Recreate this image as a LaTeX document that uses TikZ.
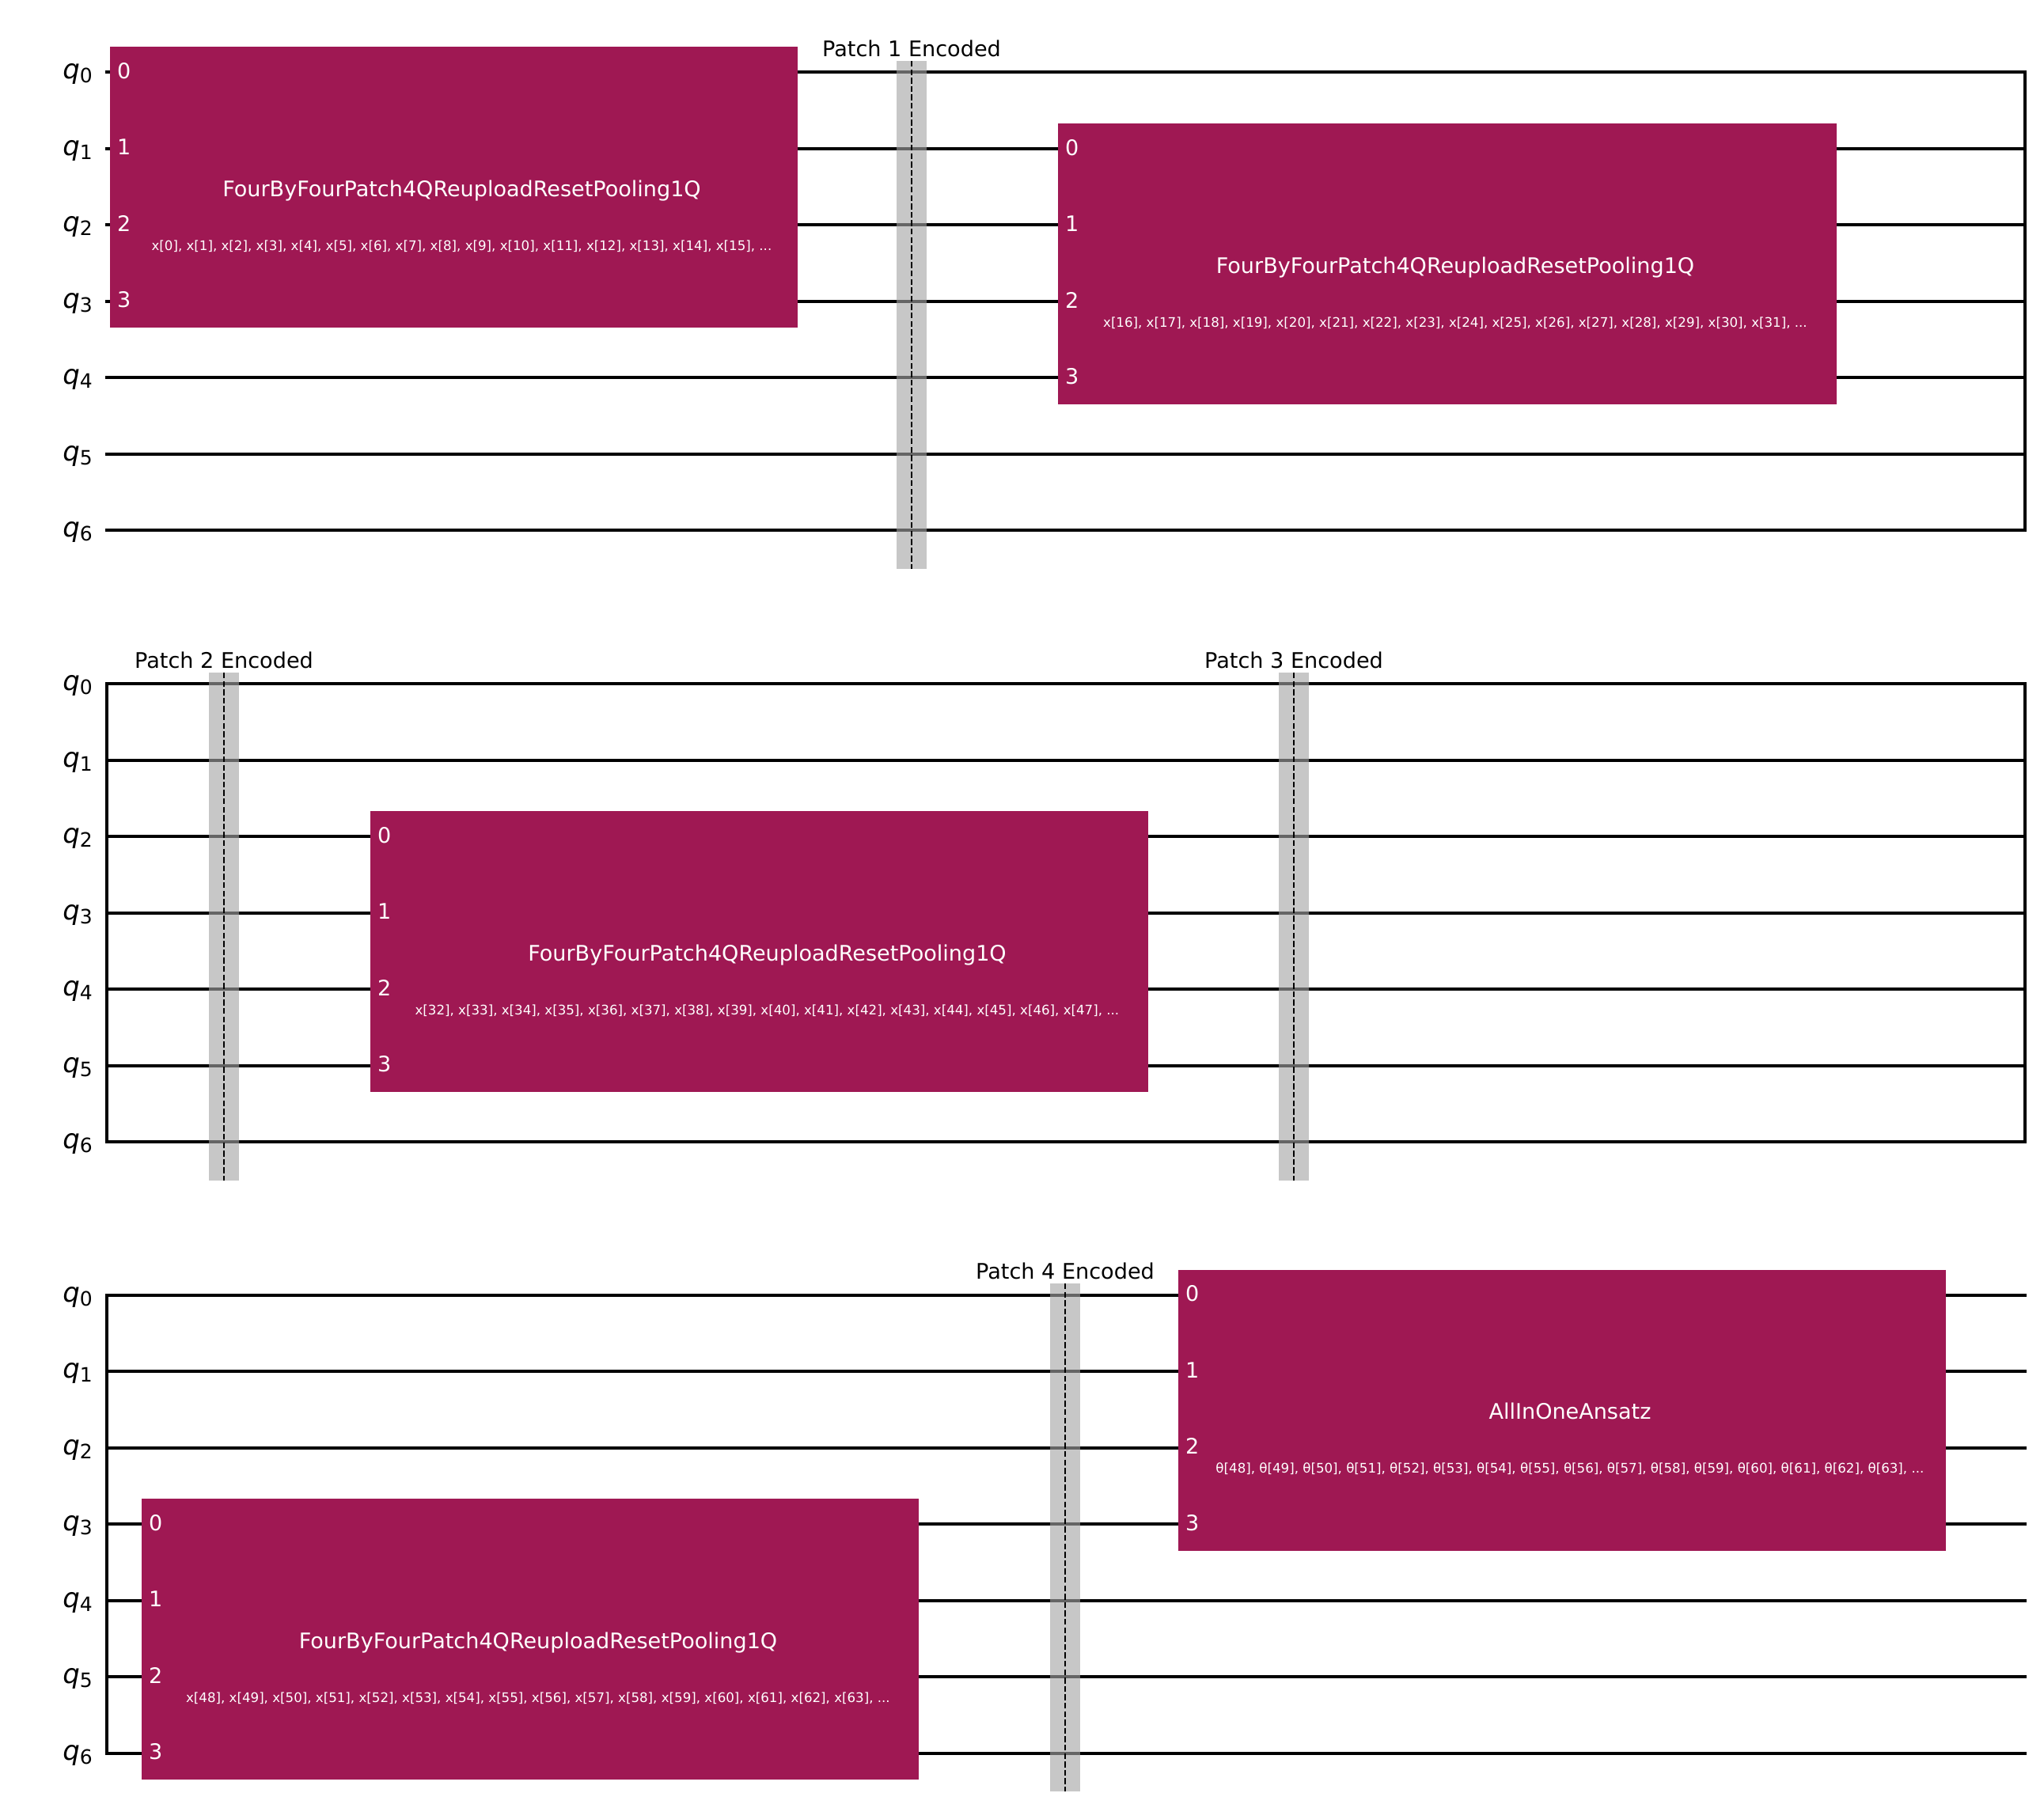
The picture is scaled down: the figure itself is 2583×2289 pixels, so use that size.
\documentclass[tikz,border=0pt]{standalone}
\usepackage{fontspec}
\setmainfont{DejaVu Sans}
\definecolor{gatefill}{HTML}{9F1853}
\definecolor{barrierfill}{RGB}{165,165,165}
\tikzset{
  x=1pt,y=-1pt,
  wire/.style={line width=4pt,black},
  rail/.style={line width=4pt,black,line cap=rect},
  gatebox/.style={fill=gatefill,draw=none,inner sep=0pt,outer sep=0pt,rectangle},
  barrierbox/.style={fill=barrierfill,fill opacity=0.615,draw=none,inner sep=0pt,outer sep=0pt,rectangle,minimum width=38pt,minimum height=642pt},
  barrierline/.style={line width=2pt,black,dash pattern=on 7.4pt off 3.2pt},
  qlabel/.style={anchor=base east,inner sep=0pt,outer sep=0pt,text=black},
  portlabel/.style={anchor=base west,inner sep=0pt,outer sep=0pt,text=white,font=\fontsize{27}{32}\selectfont},
  gatename/.style={anchor=base,inner sep=0pt,outer sep=0pt,text=white,font=\fontsize{27.05}{32}\selectfont},
  gateparams/.style={anchor=base,inner sep=0pt,outer sep=0pt,text=white,font=\fontsize{16.65}{20}\selectfont},
  barrierlabel/.style={anchor=base,inner sep=0pt,outer sep=0pt,text=black,font=\fontsize{27.1}{32}\selectfont},
}
% #1 row name, #2 y of q0
\newcommand{\wirerow}[2]{%
  \foreach \wi in {0,...,6}{%
    \pgfmathsetmacro{\wyy}{#2+96.5*\wi}%
    \coordinate (#1wL\wi) at (133,\wyy);
    \coordinate (#1wR\wi) at (2561,\wyy);
    \draw[wire] (#1wL\wi) -- (#1wR\wi);
    \pgfmathsetmacro{\wyb}{\wyy+8.5}%
    \node[qlabel] (#1q\wi) at (116.8,\wyb) {\fontsize{34}{38}\selectfont\itshape q\fontsize{25}{29}\selectfont\upshape\raisebox{-5pt}{\wi}};
  }%
}
% #1 name, #2 left, #3 right, #4 y of port 0, #5 title, #6 params
\newcommand{\gateblock}[6]{%
  \pgfmathsetmacro{\gcx}{(#2+#3)/2}%
  \pgfmathsetmacro{\gwd}{#3-#2}%
  \pgfmathsetmacro{\gcy}{#4+145.5}%
  \pgfmathsetmacro{\gtx}{\gcx+10}%
  \pgfmathsetmacro{\gtya}{\gcy+11.5}%
  \pgfmathsetmacro{\gtyb}{\gcy+79.5}%
  \pgfmathsetmacro{\gpx}{#2+9}%
  \node[gatebox,minimum width=\gwd pt,minimum height=355pt] (#1) at (\gcx,\gcy) {};
  \node[gatename] (#1name) at (\gtx,\gtya) {#5};
  \node[gateparams] (#1params) at (\gtx,\gtyb) {#6};
  \foreach \gi in {0,...,3}{%
    \pgfmathsetmacro{\gpy}{#4+96.5*\gi+8}%
    \node[portlabel] (#1port\gi) at (\gpx,\gpy) {\gi};
  }%
}
% #1 name, #2 x, #3 y of q0, #4 label
\newcommand{\barrierat}[4]{%
  \pgfmathsetmacro{\bcy}{#3+307}%
  \pgfmathsetmacro{\btop}{#3-14}%
  \pgfmathsetmacro{\bbot}{#3+628}%
  \pgfmathsetmacro{\blab}{#3-20}%
  \node[barrierbox] (#1) at (#2,\bcy) {};
  \coordinate (#1top) at (#2,\btop);
  \coordinate (#1bot) at (#2,\bbot);
  \draw[barrierline] (#1top) -- (#1bot);
  \node[barrierlabel] (#1label) at (#2,\blab) {#4};
}
\begin{document}
\begin{tikzpicture}
\useasboundingbox (0,0) rectangle (2583,2289);
\fill[white] (0,0) rectangle (2583,2289);
% rows of wires
\wirerow{a}{91}
\wirerow{b}{864}
\wirerow{c}{1636.5}
\draw[rail] (2559,91) coordinate (aRT) -- (2559,670) coordinate (aRB);
\draw[rail] (135,864) coordinate (bLT) -- (135,1443) coordinate (bLB);
\draw[rail] (2559,864) coordinate (bRT) -- (2559,1443) coordinate (bRB);
\draw[rail] (135,1636.5) coordinate (cLT) -- (135,2215.5) coordinate (cLB);
% gates
\gateblock{g1}{139}{1008}{91}{FourByFourPatch4QReuploadResetPooling1Q}{x[0], x[1], x[2], x[3], x[4], x[5], x[6], x[7], x[8], x[9], x[10], x[11], x[12], x[13], x[14], x[15], ...}
\gateblock{g2}{1337}{2321}{188}{FourByFourPatch4QReuploadResetPooling1Q}{x[16], x[17], x[18], x[19], x[20], x[21], x[22], x[23], x[24], x[25], x[26], x[27], x[28], x[29], x[30], x[31], ...}
\gateblock{g3}{468}{1451}{1057}{FourByFourPatch4QReuploadResetPooling1Q}{x[32], x[33], x[34], x[35], x[36], x[37], x[38], x[39], x[40], x[41], x[42], x[43], x[44], x[45], x[46], x[47], ...}
\gateblock{g4}{179}{1161}{1926}{FourByFourPatch4QReuploadResetPooling1Q}{x[48], x[49], x[50], x[51], x[52], x[53], x[54], x[55], x[56], x[57], x[58], x[59], x[60], x[61], x[62], x[63], ...}
\gateblock{g5}{1489}{2459}{1636.5}{AllInOneAnsatz}{θ[48], θ[49], θ[50], θ[51], θ[52], θ[53], θ[54], θ[55], θ[56], θ[57], θ[58], θ[59], θ[60], θ[61], θ[62], θ[63], ...}
% barriers
\barrierat{b1}{1152}{91}{Patch 1 Encoded}
\barrierat{b2}{283}{864}{Patch 2 Encoded}
\barrierat{b3}{1635}{864}{Patch 3 Encoded}
\barrierat{b4}{1346}{1636}{Patch 4 Encoded}
\end{tikzpicture}
\end{document}
